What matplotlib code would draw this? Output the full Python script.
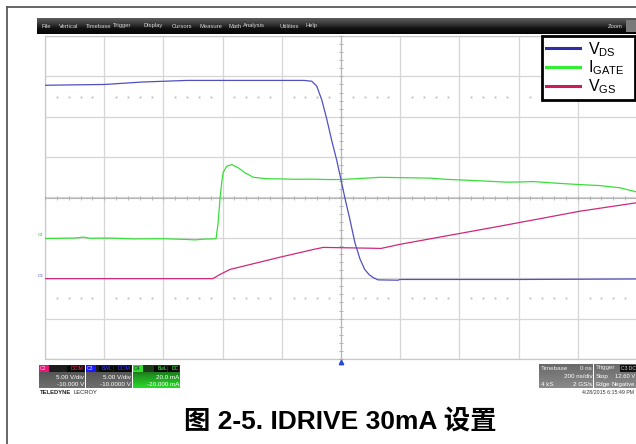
import numpy as np
import matplotlib
matplotlib.use('Agg')
import matplotlib.pyplot as plt
from matplotlib.patches import Rectangle
from matplotlib.lines import Line2D
from matplotlib.colors import LinearSegmentedColormap
import matplotlib.transforms as mtransforms

# ---------------- data ----------------
# time in ns (200 ns/div, trigger at 0)
time_vds = [-1000, -797, -672, -520, -125, -99, -82, -65, -48, -31, -15, 0, 14, 30,
            47, 64, 80, 95, 108, 125, 193, 199, 615, 997]
vds_v = [23.9, 24.0, 24.3, 24.5, 24.5, 24.4, 23.8, 22.1, 19.7, 17.0, 14.7, 12.2, 9.8, 7.3,
         4.4, 2.4, 1.1, 0.45, 0.1, -0.2, -0.24, -0.15, -0.15, -0.09]

time_igate = [-1000, -900, -870, -850, -780, -700, -600, -520, -494, -460, -430, -422,
              -415, -409, -403, -398, -386, -369, -347, -324, -296, -251, -200, -150,
              -100, -50, 0, 50, 132, 219, 300, 355, 420, 493, 560, 605, 650, 706, 760,
              807, 875, 943, 997]
igate_ma = [-0.3, -0.1, 0.4, -0.2, -0.1, -0.5, -0.4, -0.8, -1.0, -0.6, -0.5, -0.3,
            7.6, 19.0, 27.4, 32.4, 35.5, 36.3, 34.7, 32.2, 30.0, 29.3, 29.2, 29.0,
            29.1, 28.9, 28.9, 29.3, 30.0, 29.8, 29.6, 29.0, 28.6, 28.1, 27.6, 27.7, 27.9,
            27.3, 26.8, 26.4, 25.9, 24.8, 22.8]

time_vgs = [-1000, -433, -409, -375, -206, -94, -60, 100, 135, 199, 537, 807, 997]
vgs_v = [-0.05, -0.05, 0.47, 1.09, 2.61, 3.56, 3.82, 3.72, 3.69, 4.2, 6.45, 8.3, 9.34]

# channel settings (volts or mA per division, offset)
vds_scale, vds_offset = 5.0, -10.0     # C3
vgs_scale, vgs_offset = 5.0, -10.0     # C2
igate_scale, igate_offset = 20.0, -20.0  # C4
ns_per_div = 200

series_labels = [r'$\mathregular{V_{DS}}$', r'$\mathregular{I_{GATE}}$', r'$\mathregular{V_{GS}}$']
title_text = '图 2-5. IDRIVE 30mA 设置'
menu_items = ['File', 'Vertical', 'Timebase', 'Trigger', 'Display', 'Cursors',
              'Measure', 'Math', 'Analysis', 'Utilities', 'Help']

# ---------------- figure ----------------
W, H = 636, 444
fig = plt.figure(figsize=(W / 100, H / 100), dpi=100)
fig.patch.set_facecolor('white')


def rect(x0, y0, x1, y1):
    return [x0 / W, 1 - y1 / H, (x1 - x0) / W, (y1 - y0) / H]


def fx(x):
    return x / W


def fy(y):
    return 1 - y / H


small_font = 'Liberation Sans'

# outer frame (left and top edge)
fig.add_artist(Line2D([fx(7), fx(7)], [0, fy(7)], color='#5a5a5a', lw=1.3))
fig.add_artist(Line2D([fx(7), 1], [fy(7), fy(7)], color='#5a5a5a', lw=1.3))

# menu bar
axm = fig.add_axes(rect(37, 18, 636, 34))
grad = np.linspace(0, 1, 32).reshape(-1, 1)
cm_menu = LinearSegmentedColormap.from_list('m', ['#5c5c5c', '#3a3a3a', '#101010', '#050505'])
axm.imshow(grad, aspect='auto', cmap=cm_menu, extent=[0, 1, 0, 1], origin='upper')
axm.axis('off')
menu_x = [41, 59, 86, 113, 144, 172, 199, 229, 243, 279, 306]
for name, x in zip(menu_items, menu_x):
    fig.text(fx(x), fy(26), name, fontsize=4.2, color='#d8d8d8', va='center', ha='left',
             family=small_font)
fig.text(fx(623), fy(27), 'Zoom', fontsize=4.2, color='#d8d8d8', va='center', ha='right',
         family=small_font)
fig.add_artist(Rectangle((fx(626), fy(32)), fx(10), 12 / H, transform=fig.transFigure,
                         facecolor='#7a7a7a', edgecolor='none'))

# ---------------- grid axes ----------------
xlim = (-5 * ns_per_div, 5 * ns_per_div)
ylim = (-4, 4)
axg = fig.add_axes(rect(45, 36, 637, 359))
axg.set_xlim(*xlim)
axg.set_ylim(*ylim)
axg.set_xticks(np.arange(xlim[0], xlim[1] + 1, ns_per_div))
axg.set_yticks(np.arange(-4, 5, 1))
axg.tick_params(length=0, labelbottom=False, labelleft=False)
axg.grid(True, color='#d6d6d6', lw=0.9)
for s in axg.spines.values():
    s.set_color('#c8c8c8')
    s.set_linewidth(0.9)
# faint dotted rows
dot_x = [t for t in np.arange(xlim[0] + 40, xlim[1], 40) if t % ns_per_div != 0]
for yv in (2.5, -2.5):
    axg.plot(dot_x, [yv] * len(dot_x), ls='none', marker='.', ms=1.2, color='#c4c4c4')

# ---------------- trace axes ----------------
ax = fig.add_axes(rect(45, 36, 637, 359), facecolor='none')
ax.set_xlim(*xlim)
ax.set_ylim(*ylim)
for side in ('top', 'right'):
    ax.spines[side].set_visible(False)
ax.spines['left'].set_position(('data', 0))
ax.spines['bottom'].set_position(('data', 0))
for side in ('left', 'bottom'):
    ax.spines[side].set_color('#b4b4b4')
    ax.spines[side].set_linewidth(0.8)
ax.set_xticks([])
ax.set_yticks([])
ax.set_xticks(np.arange(xlim[0], xlim[1] + 1, 40), minor=True)
ax.set_yticks(np.arange(-4, 4.01, 0.2), minor=True)
ax.tick_params(which='minor', direction='inout', length=3.5, width=0.6, color='#a8a8a8',
               labelbottom=False, labelleft=False)

ig_div = (np.array(igate_ma) + igate_offset) / igate_scale
vgs_div = (np.array(vgs_v) + vgs_offset) / vgs_scale
vds_div = (np.array(vds_v) + vds_offset) / vds_scale

l_ig, = ax.plot(time_igate, ig_div, color='#3ade3a', lw=0.9, label=series_labels[1], zorder=3)
l_vgs, = ax.plot(time_vgs, vgs_div, color='#d0287a', lw=0.9, label=series_labels[2], zorder=3)
l_vds, = ax.plot(time_vds, vds_div, color='#5050c0', lw=0.9, label=series_labels[0], zorder=4)

# trigger marker
ax.plot([0], [ylim[0] - 0.075], marker='^', ms=3.2, color='#2a4ad0', clip_on=False,
        ls='none')

# channel ground markers on the left
blend = mtransforms.blended_transform_factory(fig.transFigure, ax.transData)
fig.text(fx(38), igate_offset / igate_scale + 0.07, 'C4', transform=blend, fontsize=3.2,
         color='#30c030', va='center', ha='left', family=small_font)
fig.text(fx(38), vds_offset / vds_scale + 0.05, 'C3', transform=blend, fontsize=3.2,
         color='#5050c0', va='center', ha='left', family=small_font)

# legend
plt.rcParams['mathtext.fontset'] = 'custom'
lx0 = (542 - 45) / 592
lw_ = (635 - 542) / 592
leg = ax.legend(handles=[l_vds, l_ig, l_vgs], loc='upper left',
                bbox_to_anchor=(lx0, 0.0, lw_, 1.0), mode='expand',
                frameon=True, fancybox=False, edgecolor='black', framealpha=1,
                prop={'family': 'Liberation Sans', 'size': 11.5},
                handlelength=2.1, handletextpad=0.5, labelspacing=0.0, borderpad=0.25,
                borderaxespad=0)
leg.get_frame().set_linewidth(2)
for ln, c in zip(leg.get_lines(), ['#2e2ea8', '#33ee33', '#cc1a5e']):
    ln.set_linewidth(2.2)
    ln.set_color(c)
leg.set_zorder(10)

# ---------------- channel info boxes ----------------
cm_gray = LinearSegmentedColormap.from_list('g', ['#4c4c4c', '#6e6e6e'])
cm_green = LinearSegmentedColormap.from_list('gr', ['#1d4d1d', '#1f9a1f', '#2ad82a'])
cm_gray2 = LinearSegmentedColormap.from_list('g2', ['#6a6a6a', '#8a8a8a'])


def grad_box(x0, y0, x1, y1, cmap):
    a = fig.add_axes(rect(x0, y0, x1, y1))
    a.imshow(np.linspace(0, 1, 24).reshape(-1, 1), aspect='auto', cmap=cmap,
             extent=[0, 1, 0, 1], origin='upper')
    a.axis('off')
    return a


def frect(x0, y0, x1, y1, fc):
    fig.add_artist(Rectangle((fx(x0), fy(y1)), (x1 - x0) / W, (y1 - y0) / H,
                             transform=fig.transFigure, facecolor=fc, edgecolor='none'))


def ftext(x, y, s, ha='left', color='white', size=4.5, weight='normal'):
    fig.text(fx(x), fy(y), s, ha=ha, va='center', color=color, fontsize=size,
             family=small_font, fontweight=weight)


channels = [
    # x0, x1, tag, tag colour, status labels, status colours, line1, line2, body cmap
    (39, 85, 'C2', '#e8157a', ['DCIM'], ['#ff2a55'], '5.00 V/div', '-10.000 V', cm_gray),
    (86, 132, 'C3', '#1a1aff', ['BWL', 'DCIM'], ['#3a3aff', '#3a3aff'], '5.00 V/div',
     '-10.0000 V', cm_gray),
    (133, 180, 'C4', '#30e030', ['BwL', 'DC'], ['#50ff50', '#50ff50'], '20.0 mA',
     '-20.000 mA', cm_green),
]
for x0, x1, tag, tcol, stats, scols, t1, t2, cmap in channels:
    grad_box(x0, 365, x1, 388, cmap)
    frect(x0, 365, x1, 372, '#1c1c1c' if tag != 'C4' else '#1a3a1a')
    frect(x0, 365, x0 + 10, 372, tcol)
    ftext(x0 + 1, 368.5, tag, color='#202020' if tag == 'C4' else '#ffd0e0', size=3.6)
    xr = x1 - 1
    for s, sc in zip(stats[::-1], scols[::-1]):
        wdt = 4 + 3.3 * len(s)
        frect(xr - wdt, 365.5, xr, 371.5, '#080808')
        ftext(xr - 0.5, 368.5, s, ha='right', color=sc, size=3.6)
        xr -= wdt + 1
    ftext(x1 - 1, 377, t1, ha='right')
    ftext(x1 - 1, 384, t2, ha='right')

fig.text(fx(40), fy(392), 'TELEDYNE', fontsize=4.2, fontweight='bold', color='#222222',
         family=small_font, va='center', ha='left')
fig.text(fx(74), fy(392), 'LECROY', fontsize=4.2, color='#222222',
         family=small_font, va='center', ha='left')

# timebase / trigger boxes
grad_box(539, 364, 593, 388, cm_gray2)
grad_box(594, 364, 636, 388, cm_gray2)
ftext(541, 368, 'Timebase', color='#f0f0f0')
ftext(592, 368, '0 ns', ha='right', color='#f0f0f0')
ftext(592, 376.5, '200 ns/div', ha='right')
ftext(541, 384, '4 kS')
ftext(592, 384, '2 GS/s', ha='right')
ftext(596, 368, 'Trigger', color='#f0f0f0')
frect(620, 365, 636, 371.5, '#101010')
ftext(621, 368.5, 'C3 DC', color='#cfcfcf', size=3.6)
ftext(596, 376.5, 'Stop')
ftext(635, 376.5, '12.60 V', ha='right', size=4.2)
ftext(596, 384, 'Edge')
ftext(635, 384, 'Negative', ha='right', size=4.2)
ftext(634, 392.5, '4/28/2015 6:15:49 PM', ha='right', color='#333333', size=3.8)

# ---------------- caption ----------------
fig.text(fx(340), fy(421), title_text, ha='center', va='center', fontsize=19,
         fontweight='bold', family=['Liberation Sans', 'Noto Sans CJK SC'], color='black')

fig.savefig('out.png', dpi=100)
